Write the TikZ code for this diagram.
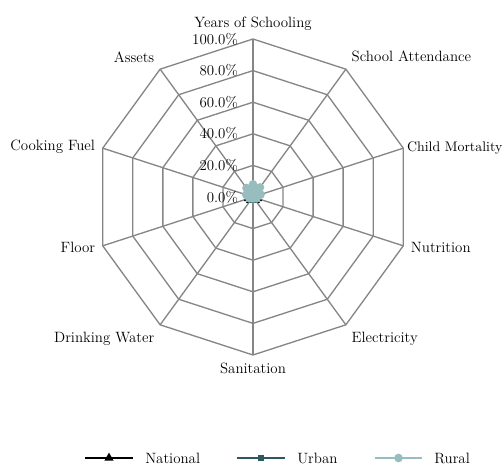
\documentclass[tikz,border=0pt]{standalone}
\usetikzlibrary{positioning,shapes.geometric,calc}
\definecolor{gridgray}{RGB}{134,134,134}
\definecolor{urbanteal}{RGB}{44,90,92}
\definecolor{ruralteal}{RGB}{152,189,190}
\tikzset{
  gridline/.style={draw=gridgray, line width=1pt},
  axislabel/.style={inner sep=2pt},
  pctlabel/.style={anchor=east, inner sep=0pt},
  natline/.style={draw=black, line width=1.6pt},
  urbline/.style={draw=urbanteal, line width=1.6pt},
  rurline/.style={draw=ruralteal, fill=ruralteal, line width=1.6pt, line join=round},
  natmark/.style={regular polygon, regular polygon sides=3, fill=black, inner sep=0pt, minimum size=8pt},
  urbmark/.style={rectangle, fill=urbanteal, inner sep=0pt, minimum size=4.5pt},
  rurmark/.style={circle, fill=ruralteal, inner sep=0pt, minimum size=6.5pt},
  legtext/.style={inner sep=0pt}
}
\begin{document}
\begin{tikzpicture}[x=0.75pt,y=0.75pt,font=\fontsize{11.2}{13}\selectfont]
\useasboundingbox (-253,-269) rectangle (251,197);

% web
\foreach \r in {31.6,63.2,94.8,126.4,158}
  \draw[gridline] (90:\r) \foreach \k in {1,...,9}{ -- (90-36*\k:\r)} -- cycle;
\foreach \k in {0,...,9}
  \draw[gridline] (0,0) -- (90-36*\k:158);

\foreach \p [count=\k from 0] in {0.0,20.0,40.0,60.0,80.0,100.0}
  \node[pctlabel] (pct\k) at (-15,31.6*\k) {\p\%};

\foreach \lab/\anc/\rad/\sz [count=\k from 0] in {Years of Schooling/south/163/11.2,
    School Attendance/south west/163/11.2, Child Mortality/west/159/10.4,
    Nutrition/west/163/11.2, Electricity/north west/163/11.2, Sanitation/north/163/11.2,
    Drinking Water/north east/163/11.2, Floor/east/163/11.2, Cooking Fuel/east/163/11.2,
    Assets/south east/163/11.2}
  \node[axislabel, anchor=\anc, font=\fontsize{\sz}{13}\selectfont] (ax\k) at (90-36*\k:\rad) {\lab};

% series
\foreach \v [count=\k from 0] in {0.010,0.015,0.030,0.030,0.025,0.012,0.025,0.030,0.030,0.015}
  \coordinate (N\k) at (90-36*\k:158*\v);
\foreach \v [count=\k from 0] in {0.010,0.012,0.025,0.025,0.020,0.010,0.020,0.025,0.025,0.012}
  \coordinate (U\k) at (90-36*\k:158*\v);
\foreach \v [count=\k from 0] in {0.080,0.075,0.050,0.025,0.010,0.0,0.010,0.025,0.045,0.070}
  \coordinate (R\k) at (90-36*\k:158*\v);

\draw[natline] (N0) \foreach \k in {1,...,9}{ -- (N\k)} -- cycle;
\foreach \k in {0,...,9} \node[natmark] (nm\k) at (N\k) {};
\draw[urbline] (U0) \foreach \k in {1,...,9}{ -- (U\k)} -- cycle;
\foreach \k in {0,...,9} \node[urbmark] (um\k) at (U\k) {};
\filldraw[rurline] (R0) \foreach \k in {1,...,9}{ -- (R\k)} -- cycle;
\foreach \k in {0,...,9} \node[rurmark] (rm\k) at (R\k) {};

% legend
\coordinate (natA) at (-168,-261);
\coordinate (natB) at (-120,-261);
\coordinate (urbA) at (-16,-261);
\coordinate (urbB) at (32,-261);
\coordinate (rurA) at (122,-261);
\coordinate (rurB) at (169,-261);
\draw[natline] (natA) -- (natB);
\node[natmark] (natM) at ($(natA)!0.5!(natB)$) {};
\node[legtext, right=9pt of natB] (natT) {National};
\draw[urbline] (urbA) -- (urbB);
\node[urbmark] (urbM) at ($(urbA)!0.5!(urbB)$) {};
\node[legtext, right=9pt of urbB] (urbT) {Urban};
\draw[draw=ruralteal, line width=1.6pt] (rurA) -- (rurB);
\node[rurmark] (rurM) at ($(rurA)!0.5!(rurB)$) {};
\node[legtext, right=9pt of rurB] (rurT) {Rural};
\end{tikzpicture}
\end{document}
